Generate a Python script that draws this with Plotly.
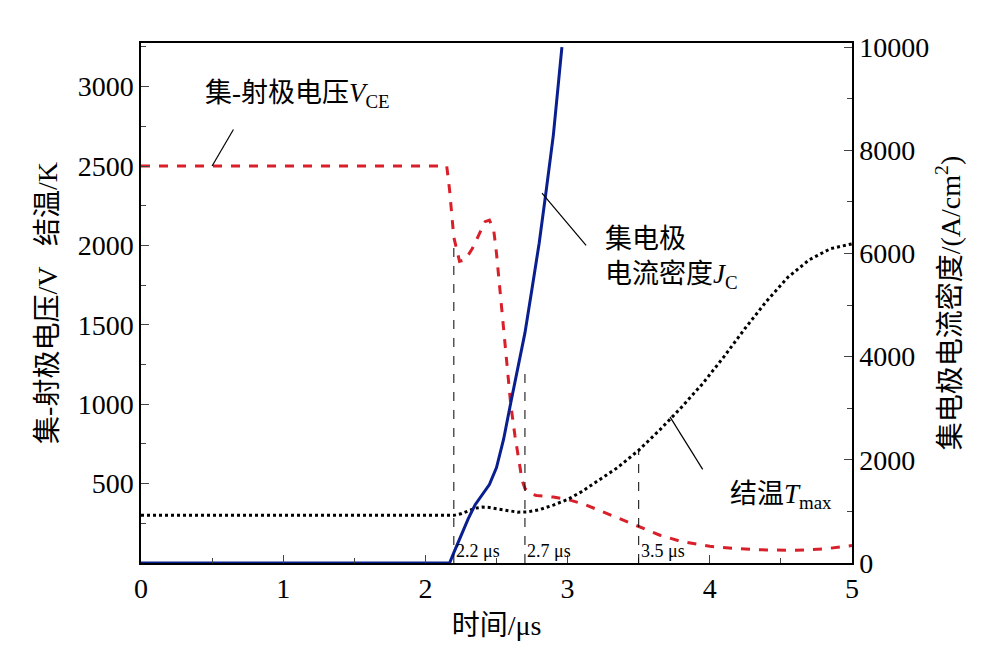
import plotly.graph_objects as go

t_v = [0, 2.15, 2.17, 2.2, 2.24, 2.28, 2.33, 2.38, 2.42, 2.45, 2.48, 2.5, 2.53, 2.56, 2.6, 2.63, 2.66, 2.68, 2.7, 2.73, 2.78, 2.9, 3.0, 3.1, 3.2, 3.35, 3.5, 3.65, 3.8, 4.0, 4.2, 4.4, 4.6, 4.8, 5.0]
vce = [2500, 2500, 2350, 2050, 1900, 1910, 1980, 2080, 2150, 2160, 2100, 1950, 1650, 1350, 1000, 800, 620, 520, 470, 440, 425, 415, 400, 375, 340, 285, 230, 175, 135, 105, 90, 82, 80, 88, 110]

t_j = [0, 2.17, 2.2, 2.25, 2.3, 2.35, 2.4, 2.45, 2.5, 2.55, 2.6, 2.65, 2.7, 2.75, 2.8, 2.85, 2.9, 2.96]
jc = [0, 0, 200, 520, 850, 1130, 1330, 1520, 1850, 2400, 3100, 3780, 4460, 5320, 6200, 7230, 8300, 10000]

t_t = [0, 2.2, 2.25, 2.3, 2.35, 2.4, 2.45, 2.5, 2.58, 2.65, 2.72, 2.8, 2.9, 3.0, 3.1, 3.2, 3.35, 3.5, 3.65, 3.8, 3.95, 4.1, 4.25, 4.4, 4.55, 4.7, 4.85, 5.0]
tmax = [300, 300, 310, 330, 345, 352, 350, 342, 328, 320, 322, 335, 365, 400, 450, 510, 600, 710, 840, 980, 1130, 1300, 1480, 1650, 1800, 1910, 1980, 2010]

marks = [2.2, 2.7, 3.5]
mark_tops = [2000, 1230, 710]
mark_labels = ["2.2 μs", "2.7 μs", "3.5 μs"]

F = "Liberation Serif, Times New Roman, Noto Sans CJK SC"
fig = go.Figure()
fig.add_trace(go.Scatter(x=t_v, y=vce, mode="lines", line=dict(color="#d9202a", width=3, dash="dash"), showlegend=False))
fig.add_trace(go.Scatter(x=t_t, y=tmax, mode="lines", line=dict(color="black", width=3, dash="dot"), showlegend=False))
fig.add_trace(go.Scatter(x=t_j, y=jc, mode="lines", yaxis="y2", line=dict(color="#0a1f8f", width=3), showlegend=False))

for m, top, lab in zip(marks, mark_tops, mark_labels):
    fig.add_shape(type="line", x0=m, x1=m, y0=0, y1=top, xref="x", yref="y", line=dict(color="black", width=1, dash="dash"))
    fig.add_annotation(x=m, y=0, xref="x", yref="y", text=lab, showarrow=False, xanchor="left", yanchor="bottom", font=dict(family=F, size=18, color="black"))

ann_font = dict(family=F, size=27, color="black")
fig.add_annotation(x=1.1, y=2950, xref="x", yref="y", text="集-射极电压<i>V</i><sub>CE</sub>", showarrow=False, font=ann_font)
fig.add_shape(type="line", x0=0.65, y0=2730, x1=0.5, y1=2500, xref="x", yref="y", line=dict(color="black", width=1.2))
fig.add_annotation(x=3.25, y=1920, xref="x", yref="y", text="集电极<br>电流密度<i>J</i><sub>C</sub>", showarrow=False, align="left", xanchor="left", font=ann_font)
fig.add_shape(type="line", x0=2.82, y0=2330, x1=3.13, y1=2000, xref="x", yref="y", line=dict(color="black", width=1.2))
fig.add_annotation(x=4.5, y=420, xref="x", yref="y", text="结温<i>T</i><sub>max</sub>", showarrow=False, font=ann_font)
fig.add_shape(type="line", x0=3.72, y0=920, x1=3.95, y1=590, xref="x", yref="y", line=dict(color="black", width=1.2))

tf = dict(family=F, size=28, color="black")
fig.update_layout(
    width=1005, height=657, margin=dict(l=133, r=161, t=35, b=102),
    plot_bgcolor="white", paper_bgcolor="white", font=dict(family=F, color="black"),
    xaxis=dict(range=[0, 5], tickvals=[0, 1, 2, 3, 4, 5], ticks="inside", ticklen=8, tickfont=tf,
               minor=dict(dtick=0.5, ticks="inside", ticklen=5), showline=True, linecolor="black", linewidth=1.5,
               mirror=True, showgrid=False, zeroline=False,
               title=dict(text="时间/μs", font=tf, standoff=12)),
    yaxis=dict(range=[0, 3275], tickvals=[500, 1000, 1500, 2000, 2500, 3000], ticks="inside", ticklen=8, tickfont=tf,
               minor=dict(dtick=250, ticks="inside", ticklen=5), showline=True, linecolor="black", linewidth=1.5,
               showgrid=False, zeroline=False,
               title=dict(text="集-射极电压/V   结温/K", font=tf, standoff=12)),
    yaxis2=dict(range=[0, 10080], overlaying="y", side="right", tickvals=[0, 2000, 4000, 6000, 8000, 10000],
                ticktext=["0", "2000", "4000", "6000", "8000", "10000"],
                ticks="inside", ticklen=8, tickfont=tf, minor=dict(dtick=1000, ticks="inside", ticklen=5),
                showline=True, linecolor="black", linewidth=1.5, showgrid=False, zeroline=False,
                title=dict(text="集电极电流密度/(A/cm<sup>2</sup>)", font=tf, standoff=12)),
)
fig.write_html("out.html")
